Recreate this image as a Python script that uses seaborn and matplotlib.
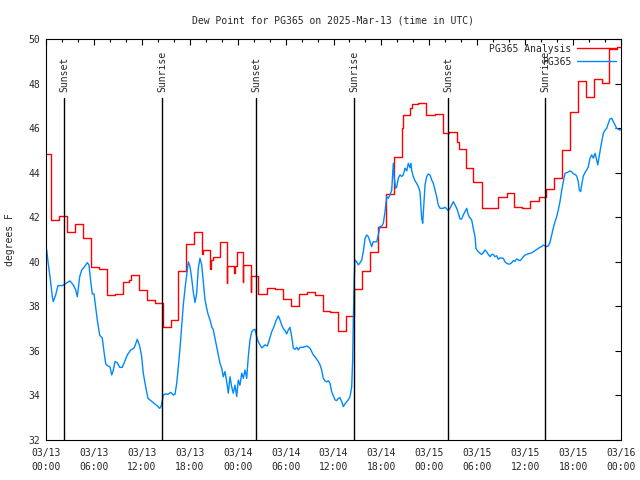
import pandas as pd
import numpy as np
import matplotlib
matplotlib.use("Agg")
import matplotlib.pyplot as plt
import matplotlib.dates as mdates
import matplotlib.transforms as mtransforms
import seaborn as sns

# hours after 2025-03-13 00:00 UTC
red_hours = [0.0, 0.59, 0.66, 1.59, 2.59, 3.63, 4.63, 5.60, 6.64, 7.60, 8.64, 9.64,
             10.39, 10.68, 11.65, 12.61, 13.65, 14.61, 15.61, 16.57, 17.53, 18.57,
             19.57, 19.62, 20.54, 20.60, 20.85, 21.79, 22.63, 22.70, 23.60, 23.66,
             23.88, 24.63, 24.70, 25.63, 25.70, 26.58, 27.64, 28.68, 29.64, 30.68,
             31.72, 32.72, 33.68, 34.65, 35.56, 36.53, 37.57, 38.57, 39.53, 40.57,
             41.55, 42.59, 43.63, 44.52, 44.72, 45.60, 45.80, 46.60, 47.58, 48.70,
             49.68, 50.50, 51.50, 51.72, 52.56, 53.50, 54.55, 56.64, 57.69, 58.60,
             59.57, 60.61, 61.78, 62.62, 63.62, 64.58, 65.61, 66.65, 67.62, 68.62,
             69.58, 70.54, 71.54, 72.0]
red_vals = [44.83, 43.37, 41.88, 42.04, 41.34, 41.68, 41.05, 39.75, 39.69, 38.51, 38.56, 39.08,
            39.17, 39.41, 38.72, 38.29, 38.15, 37.07, 37.37, 39.60, 40.80, 41.32,
            40.35, 40.53, 39.66, 40.10, 40.23, 40.90, 39.04, 39.83, 39.48, 39.83,
            40.42, 39.08, 39.86, 38.66, 39.35, 38.54, 38.81, 38.76, 38.32, 38.02,
            38.56, 38.63, 38.51, 37.79, 37.76, 36.89, 37.57, 38.77, 39.59, 40.45,
            41.58, 43.05, 44.72, 45.99, 46.59, 46.89, 47.07, 47.11, 46.59, 46.65,
            45.77, 45.81, 45.39, 45.05, 44.20, 43.60, 42.40, 42.92, 43.07, 42.45,
            42.40, 42.74, 42.92, 43.25, 43.78, 45.02, 46.71, 48.11, 47.38, 48.20,
            48.01, 49.55, 49.66, 49.66]

blue_hours = [0.0, 0.09, 0.25, 0.50, 0.79, 0.91, 1.21, 1.50, 2.04, 2.47, 3.01, 3.42, 3.72,
              3.92, 4.22, 4.47, 4.76, 5.17, 5.38, 5.60, 5.80, 6.01, 6.22, 6.42, 6.72,
              7.05, 7.26, 7.48, 7.76, 8.01, 8.23, 8.43, 8.64, 8.93, 9.23, 9.55, 9.85,
              10.18, 10.61, 11.02, 11.23, 11.43, 11.73, 11.98, 12.18, 12.48, 12.77,
              13.11, 13.52, 13.94, 14.24, 14.44, 14.69, 14.99, 15.28, 15.61, 15.94,
              16.15, 16.37, 16.57, 16.78, 16.99, 17.19, 17.41, 17.62, 17.82, 18.03,
              18.24, 18.44, 18.66, 18.87, 19.07, 19.28, 19.50, 19.70, 19.91, 20.12,
              20.32, 20.54, 20.75, 20.95, 21.16, 21.38, 21.58, 21.79, 22.00, 22.20,
              22.41, 22.63, 22.83, 23.04, 23.25, 23.45, 23.67, 23.88, 24.08, 24.29,
              24.51, 24.71, 24.92, 25.13, 25.33, 25.54, 25.76, 25.96, 26.17, 26.38,
              26.58, 26.80, 27.01, 27.13, 27.42, 27.71, 27.96, 28.26, 28.55, 28.80,
              29.09, 29.30, 29.51, 29.71, 29.93, 30.14, 30.34, 30.55, 30.77, 30.97,
              31.18, 31.39, 31.59, 31.81, 32.22, 32.64, 33.06, 33.27, 33.47, 33.68,
              33.90, 34.10, 34.31, 34.52, 34.72, 34.94, 35.15, 35.35, 35.56, 35.77,
              35.98, 36.19, 36.40, 36.60, 36.81, 37.03, 37.23, 37.44, 37.65, 37.85,
              38.07, 38.28, 38.40, 38.48, 38.61, 38.69, 38.91, 39.11, 39.32, 39.53,
              39.73, 39.95, 40.16, 40.36, 40.57, 40.78, 40.99, 41.20, 41.41, 41.61,
              41.82, 42.04, 42.24, 42.45, 42.66, 42.86, 43.08, 43.29, 43.41, 43.49,
              43.61, 43.79, 43.91, 44.11, 44.33, 44.54, 44.74, 44.95, 45.17, 45.37,
              45.58, 45.70, 45.79, 45.99, 46.21, 46.42, 46.62, 46.83, 47.04, 47.17,
              47.33, 47.46, 47.67, 47.87, 48.08, 48.30, 48.50, 48.71, 48.92, 49.12,
              49.34, 49.75, 49.96, 50.38, 50.59, 50.80, 51.00, 51.21, 51.43, 51.63,
              51.84, 52.05, 52.25, 52.47, 52.68, 52.88, 53.09, 53.30, 53.50, 53.72,
              53.84, 54.01, 54.34, 54.55, 54.75, 54.96, 55.17, 55.38, 55.60, 55.81,
              56.01, 56.22, 56.44, 56.64, 56.85, 57.27, 57.48, 57.69, 57.89, 58.10,
              58.31, 58.52, 58.73, 58.94, 59.14, 59.36, 59.57, 59.77, 59.98, 60.19,
              60.39, 60.61, 60.82, 61.02, 61.23, 61.45, 61.65, 61.86, 62.07, 62.28,
              62.49, 62.70, 62.90, 63.11, 63.32, 63.53, 63.74, 63.95, 64.15, 64.36,
              64.58, 64.78, 64.99, 65.20, 65.40, 65.61, 65.83, 66.03, 66.24, 66.45,
              66.65, 66.78, 66.95, 67.08, 67.28, 67.49, 67.70, 67.90, 68.12, 68.33,
              68.54, 68.75, 68.96, 69.09, 69.16, 69.37, 69.58, 69.79, 70.00, 70.21,
              70.41, 70.63, 70.84, 71.04, 71.25, 71.46, 71.66, 71.87, 72.0]
blue_vals = [40.60, 40.53, 40.00, 39.33, 38.43, 38.21, 38.51, 38.93, 38.93, 39.03, 39.14, 38.96, 38.73,
             38.43, 39.33, 39.63, 39.75, 39.96, 39.86, 39.11, 38.56, 38.56, 37.98, 37.39, 36.71,
             36.57, 35.97, 35.41, 35.32, 35.29, 34.92, 35.14, 35.52, 35.47, 35.26, 35.26, 35.52,
             35.82, 36.04, 36.12, 36.31, 36.52, 36.22, 35.74, 35.00, 34.39, 33.87,
             33.77, 33.65, 33.53, 33.42, 33.54, 34.02, 34.07, 34.05, 34.14, 34.02,
             34.05, 34.55, 35.29, 36.12, 37.09, 38.06, 38.81, 39.41, 40.00, 39.78,
             39.26, 38.66, 38.17, 38.59, 39.71, 40.16, 39.86, 39.11, 38.29, 37.91,
             37.61, 37.39, 37.09, 36.94, 36.57, 36.19, 35.82, 35.44, 35.22, 34.84,
             35.07, 34.62, 34.10, 34.84, 34.39, 34.10, 34.46, 33.95, 34.69, 34.46,
             35.00, 34.77, 35.14, 34.77, 35.74, 36.49, 36.86, 36.94, 36.97, 36.64,
             36.41, 36.27, 36.14, 36.16, 36.27, 36.22, 36.49, 36.86, 37.09, 37.36,
             37.57, 37.39, 37.16, 37.01, 36.91, 36.76, 36.94, 37.06, 36.64, 36.12,
             36.07, 36.16, 36.04, 36.16, 36.16, 36.22, 36.12, 35.97, 35.82, 35.74,
             35.62, 35.52, 35.37, 35.14, 34.77, 34.66, 34.61, 34.66, 34.55, 34.17,
             33.98, 33.80, 33.77, 33.87, 33.90, 33.72, 33.50, 33.62, 33.72, 33.80,
             33.95, 34.39, 35.59, 37.39, 39.33, 40.08, 40.00, 39.86, 39.95, 40.08,
             40.45, 41.05, 41.20, 41.13, 40.90, 40.68, 40.90, 40.90, 40.90, 41.20,
             41.58, 41.60, 41.73, 42.25, 42.92, 42.85, 43.00, 43.22, 43.90, 44.42,
             43.75, 43.30, 43.35, 43.75, 43.90, 43.83, 43.90, 44.20, 44.08, 44.42,
             44.22, 44.42, 44.10, 43.83, 43.63, 43.52, 43.37, 43.15, 41.95, 41.73,
             42.70, 43.45, 43.82, 43.94, 43.90, 43.67, 43.52, 43.22, 42.92, 42.55,
             42.40, 42.40, 42.45, 42.30, 42.40, 42.55, 42.70, 42.55, 42.40, 42.18,
             41.92, 41.92, 42.10, 42.25, 42.40, 42.10, 41.97, 41.88, 41.50, 41.13,
             40.60, 40.50, 40.38, 40.33, 40.40, 40.53, 40.45, 40.33, 40.23, 40.33,
             40.33, 40.23, 40.27, 40.11, 40.18, 40.15, 40.00, 39.93, 39.90, 39.90,
             39.96, 40.05, 40.02, 40.13, 40.08, 40.05, 40.13, 40.23, 40.30, 40.33,
             40.36, 40.38, 40.40, 40.45, 40.50, 40.55, 40.60, 40.65, 40.68, 40.75,
             40.72, 40.68, 40.72, 40.87, 41.20, 41.53, 41.80, 42.03, 42.33, 42.70,
             43.22, 43.60, 43.97, 44.00, 44.03, 44.08, 44.03, 43.95, 43.92, 43.85,
             43.60, 43.22, 43.15, 43.45, 43.85, 44.00, 44.12, 44.25, 44.65, 44.80,
             44.65, 44.87, 44.57, 44.35, 44.50, 44.95, 45.39, 45.77, 45.91, 45.99,
             46.21, 46.41, 46.44, 46.29, 46.14, 45.99, 45.95, 45.91, 45.95]

sun_hours = [2.25, 14.57, 26.33, 38.61, 50.38, 62.52]
sun_labels = ["Sunset", "Sunrise", "Sunset", "Sunrise", "Sunset", "Sunrise"]

base = pd.Timestamp("2025-03-13 00:00")
red_df = pd.DataFrame({"time": base + pd.to_timedelta(red_hours, unit="h"), "dewpt": red_vals})
blue_df = pd.DataFrame({"time": base + pd.to_timedelta(blue_hours, unit="h"), "dewpt": blue_vals})

sns.set_style("white")
plt.rcParams["font.family"] = ["DejaVu Sans Mono", "DejaVu Sans"]
plt.rcParams["font.size"] = 7

fig = plt.figure(figsize=(6.4, 4.8), dpi=100)
ax = fig.add_axes([46 / 640, 40 / 480, 575 / 640, 401 / 480])

sns.lineplot(data=red_df, x="time", y="dewpt", color="#ff0000", lw=1.0,
             drawstyle="steps-post", estimator=None, label="PG365 Analysis", ax=ax)
sns.lineplot(data=blue_df, x="time", y="dewpt", color="#0088ff", lw=1.0,
             estimator=None, label="PG365", ax=ax)

trans = mtransforms.blended_transform_factory(ax.transData, ax.transAxes)
for h, lab in zip(sun_hours, sun_labels):
    t = base + pd.Timedelta(hours=h)
    ax.axvline(t, ymin=0, ymax=0.853, color="black", lw=1.0)
    ax.text(mdates.date2num(t), 0.868, lab, rotation=90, ha="center", va="bottom",
            transform=trans, fontsize=7)

ax.set_xlim(base, base + pd.Timedelta(hours=72))
ax.set_ylim(32, 50)
ax.set_yticks(np.arange(32, 51, 2))
ax.xaxis.set_major_locator(mdates.HourLocator(byhour=range(0, 24, 6)))
ax.xaxis.set_minor_locator(mdates.HourLocator(byhour=range(0, 24, 2)))
ax.xaxis.set_major_formatter(mdates.DateFormatter("%m/%d\n%H:%M"))

ax.tick_params(which="both", direction="in", top=True, right=True, color="black", width=0.8)
ax.tick_params(which="major", length=4, labelsize=7)
ax.tick_params(which="minor", length=2.5)
ax.tick_params(axis="x", pad=6)
ax.tick_params(axis="y", pad=4)
for s in ax.spines.values():
    s.set_color("black")
    s.set_linewidth(0.8)

ax.set_xlabel("")
ax.set_ylabel("degrees F", fontsize=7)
ax.yaxis.set_label_coords(-0.054, 0.5)
ax.set_title("Dew Point for PG365 on 2025-Mar-13 (time in UTC)", fontsize=7, pad=11.5)

# markerfirst=False puts the text before the line and right-aligns the rows
ax.legend(loc="upper right", frameon=False, markerfirst=False, fontsize=7,
          handlelength=4.0, handletextpad=0.6, labelspacing=0.3,
          borderaxespad=0.3, borderpad=0.2)
for lab in ax.get_xticklabels():
    lab.set_linespacing(1.45)

fig.savefig("out.png", dpi=100)
